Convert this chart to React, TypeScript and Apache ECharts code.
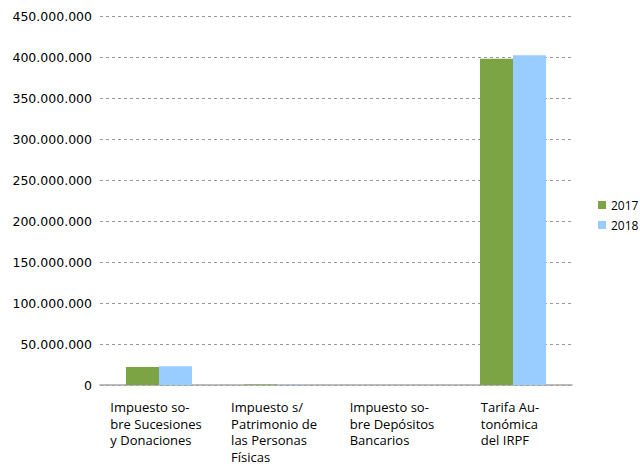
import React, { useEffect, useRef } from "react";
import * as echarts from "echarts";

const categories = [
  "Impuesto so-\nbre Sucesiones\ny Donaciones",
  "Impuesto s/\nPatrimonio de\nlas Personas\nFísicas",
  "Impuesto so-\nbre Depósitos\nBancarios",
  "Tarifa Au-\ntonómica\ndel IRPF",
];
const seriesNames = ["2017", "2018"];
const values2017 = [22000000, 500000, 100000, 398000000];
const values2018 = [23000000, 400000, 100000, 402000000];
const colors = ["#7CA444", "#99CCFF"];

function fmt(v: number) {
  return String(Math.round(v)).replace(/\B(?=(\d{3})+(?!\d))/g, ".");
}

export default function App() {
  const ref = useRef<HTMLDivElement>(null);
  useEffect(() => {
    const chart = echarts.init(ref.current!, undefined, { renderer: "svg" });
    chart.setOption({
      animation: false,
      grid: { left: 100, right: 68, top: 16, bottom: 84, containLabel: false },
      legend: {
        orient: "vertical",
        left: 593,
        top: 194,
        itemWidth: 8,
        itemHeight: 8,
        itemGap: 8,
        icon: "rect",
        textStyle: { fontFamily: "Open Sans", fontSize: 12, color: "#000" },
        data: seriesNames,
      },
      xAxis: {
        type: "category",
        data: categories,
        axisLine: { show: true, lineStyle: { color: "#a6a6a6", width: 1.5 } },
        axisTick: { show: false },
        axisLabel: {
          interval: 0,
          margin: 14,
          align: "center",
          verticalAlign: "top",
          padding: [0, 6, 0, 0],
          formatter: (v: string) => v.split("\n").map((l) => "{l|" + l + "}").join("\n"),
          rich: {
            l: {
              align: "left",
              fontFamily: "Open Sans",
              fontSize: 13,
              lineHeight: 16.5,
              color: "#000",
            },
          },
        },
      },
      yAxis: {
        type: "value",
        min: 0,
        max: 450000000,
        interval: 50000000,
        axisLine: { show: false },
        axisTick: { show: false },
        axisLabel: {
          margin: 8,
          fontFamily: "DejaVu Sans",
          fontSize: 12.5,
          color: "#000",
          formatter: (v: number) => fmt(v),
        },
        splitLine: { lineStyle: { color: "#999", type: [3, 3], width: 1 } },
      },
      series: [
        {
          name: seriesNames[0],
          type: "bar",
          data: values2017,
          barGap: "0%",
          barCategoryGap: "44%",
          itemStyle: { color: colors[0] },
        },
        {
          name: seriesNames[1],
          type: "bar",
          data: values2018,
          barGap: "0%",
          barCategoryGap: "44%",
          itemStyle: { color: colors[1] },
        },
      ],
    });
    return () => chart.dispose();
  }, []);
  return <div ref={ref} style={{ width: 640, height: 469, position: "absolute", left: 0, top: 0 }} />;
}
